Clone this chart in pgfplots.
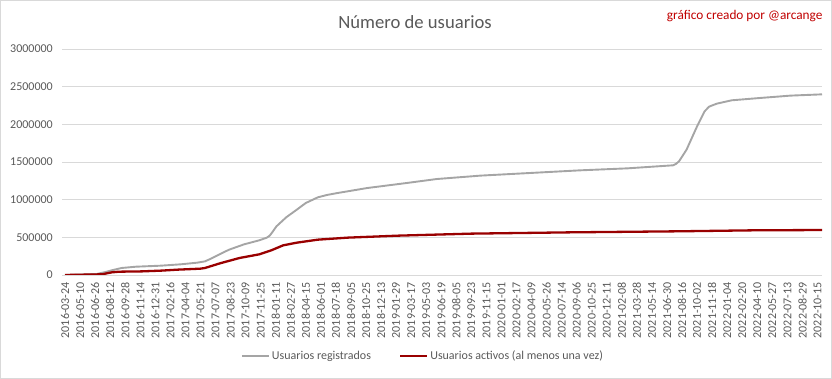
\documentclass[border=0pt]{standalone}
\usepackage{fontspec}
\setmainfont{Carlito}
\usepackage{pgfplots}
\pgfplotsset{compat=1.18}
\usepackage{pgfplotstable}
\definecolor{txtgray}{HTML}{595959}
\definecolor{gridgray}{HTML}{D9D9D9}
\definecolor{sergray}{HTML}{A5A5A5}
\definecolor{serred}{HTML}{990000}
\definecolor{notered}{HTML}{C00000}

\pgfplotstableread{
idx val
0 0
2.1 13000
2.7 40000
3.1 62000
3.76 93000
4.7 110000
6.4 124000
7.7 142000
8.8 164000
9.3 181000
9.6 208000
10.0 248000
10.9 336000
11.9 407000
12.9 460000
13.4 495000
13.6 522000
13.8 575000
14.05 646000
14.7 766000
15.4 867000
16.0 956000
16.8 1031000
17.4 1062000
18.1 1088000
20.1 1155000
22.7 1221000
24.7 1274000
27.6 1319000
30.9 1354000
34.2 1389000
37.4 1416000
40.4 1456000
40.6 1475000
40.8 1509000
41.3 1664000
42.0 1974000
42.5 2173000
42.8 2235000
43.3 2274000
44.3 2319000
46.2 2350000
48.2 2381000
50.3 2398000
}\registrados

\pgfplotstableread{
idx val
0 0
2.45 9000
3.1 35000
3.6 44000
5.1 48000
6.4 58000
7.5 71000
9.0 84000
9.3 93000
10.3 155000
11.6 226000
12.9 274000
13.7 327000
14.5 394000
15.4 429000
16.8 469000
18.8 496000
22.1 522000
27.0 549000
33.5 566000
40.8 580000
45.75 593000
50.3 597000
}\activos

\begin{document}
\begin{tikzpicture}[x=1pt,y=1pt]
\path[use as bounding box] (0,0) rectangle (832,379);
\draw[gridgray, line width=1pt] (0.5,0.5) rectangle (831.5,378.5);
\begin{axis}[
  at={(62pt,104pt)}, anchor=south west,
  scale only axis, width=760pt, height=226pt,
  xmin=-0.2, xmax=50.3, ymin=0, ymax=3000000,
  xtick={0,...,50},
  xticklabels={2016-03-24,2016-05-10,2016-06-26,2016-08-12,2016-09-28,2016-11-14,2016-12-31,2017-02-16,2017-04-04,2017-05-21,2017-07-07,2017-08-23,2017-10-09,2017-11-25,2018-01-11,2018-02-27,2018-04-15,2018-06-01,2018-07-18,2018-09-05,2018-10-25,2018-12-13,2019-01-29,2019-03-17,2019-05-03,2019-06-19,2019-08-05,2019-09-23,2019-11-15,2020-01-01,2020-02-17,2020-04-09,2020-05-26,2020-07-14,2020-09-06,2020-10-25,2020-12-11,2021-02-08,2021-03-28,2021-05-14,2021-06-30,2021-08-16,2021-10-02,2021-11-18,2022-01-04,2022-02-20,2022-04-10,2022-05-27,2022-07-13,2022-08-29,2022-10-15},
  ytick={0,500000,1000000,1500000,2000000,2500000,3000000},
  scaled y ticks=false,
  /pgf/number format/.cd, fixed, 1000 sep={}, assume math mode=true,
  /pgfplots/.cd,
  ymajorgrids=true,
  major grid style={gridgray, line width=0.8pt},
  axis line style={draw=none},
  tick style={draw=none},
  major tick length=0pt,
  tick label style={txtgray, font=\fontsize{12}{14}\selectfont},
  xticklabel style={rotate=90, anchor=east, inner sep=0pt},
  xticklabel shift=7pt,
  yticklabel style={anchor=east, inner sep=0pt},
  yticklabel shift=9pt,
  legend style={at={(0.475,-0.358)}, anchor=center, draw=none, fill=none,
    legend columns=2, font=\fontsize{12}{14}\selectfont, text=txtgray,
    /tikz/every even column/.append style={column sep=26pt}},
  legend image code/.code={\draw[#1] (0pt,0pt) -- (27pt,0pt);},
]
\addplot[sergray, line width=1.9pt, line join=round] table[x=idx,y=val] {\registrados};
\addlegendentry{Usuarios registrados}
\addplot[serred, line width=2.3pt, line join=round] table[x=idx,y=val] {\activos};
\addlegendentry{Usuarios activos (al menos una vez)}
\end{axis}
\node[txtgray, font=\fontsize{18.67}{20}\selectfont] at (415,357) {Número de usuarios};
\node[notered, anchor=east, font=\fontsize{13.3}{15}\selectfont] at (826,363) {gráfico creado por @arcange};
\end{tikzpicture}
\end{document}
